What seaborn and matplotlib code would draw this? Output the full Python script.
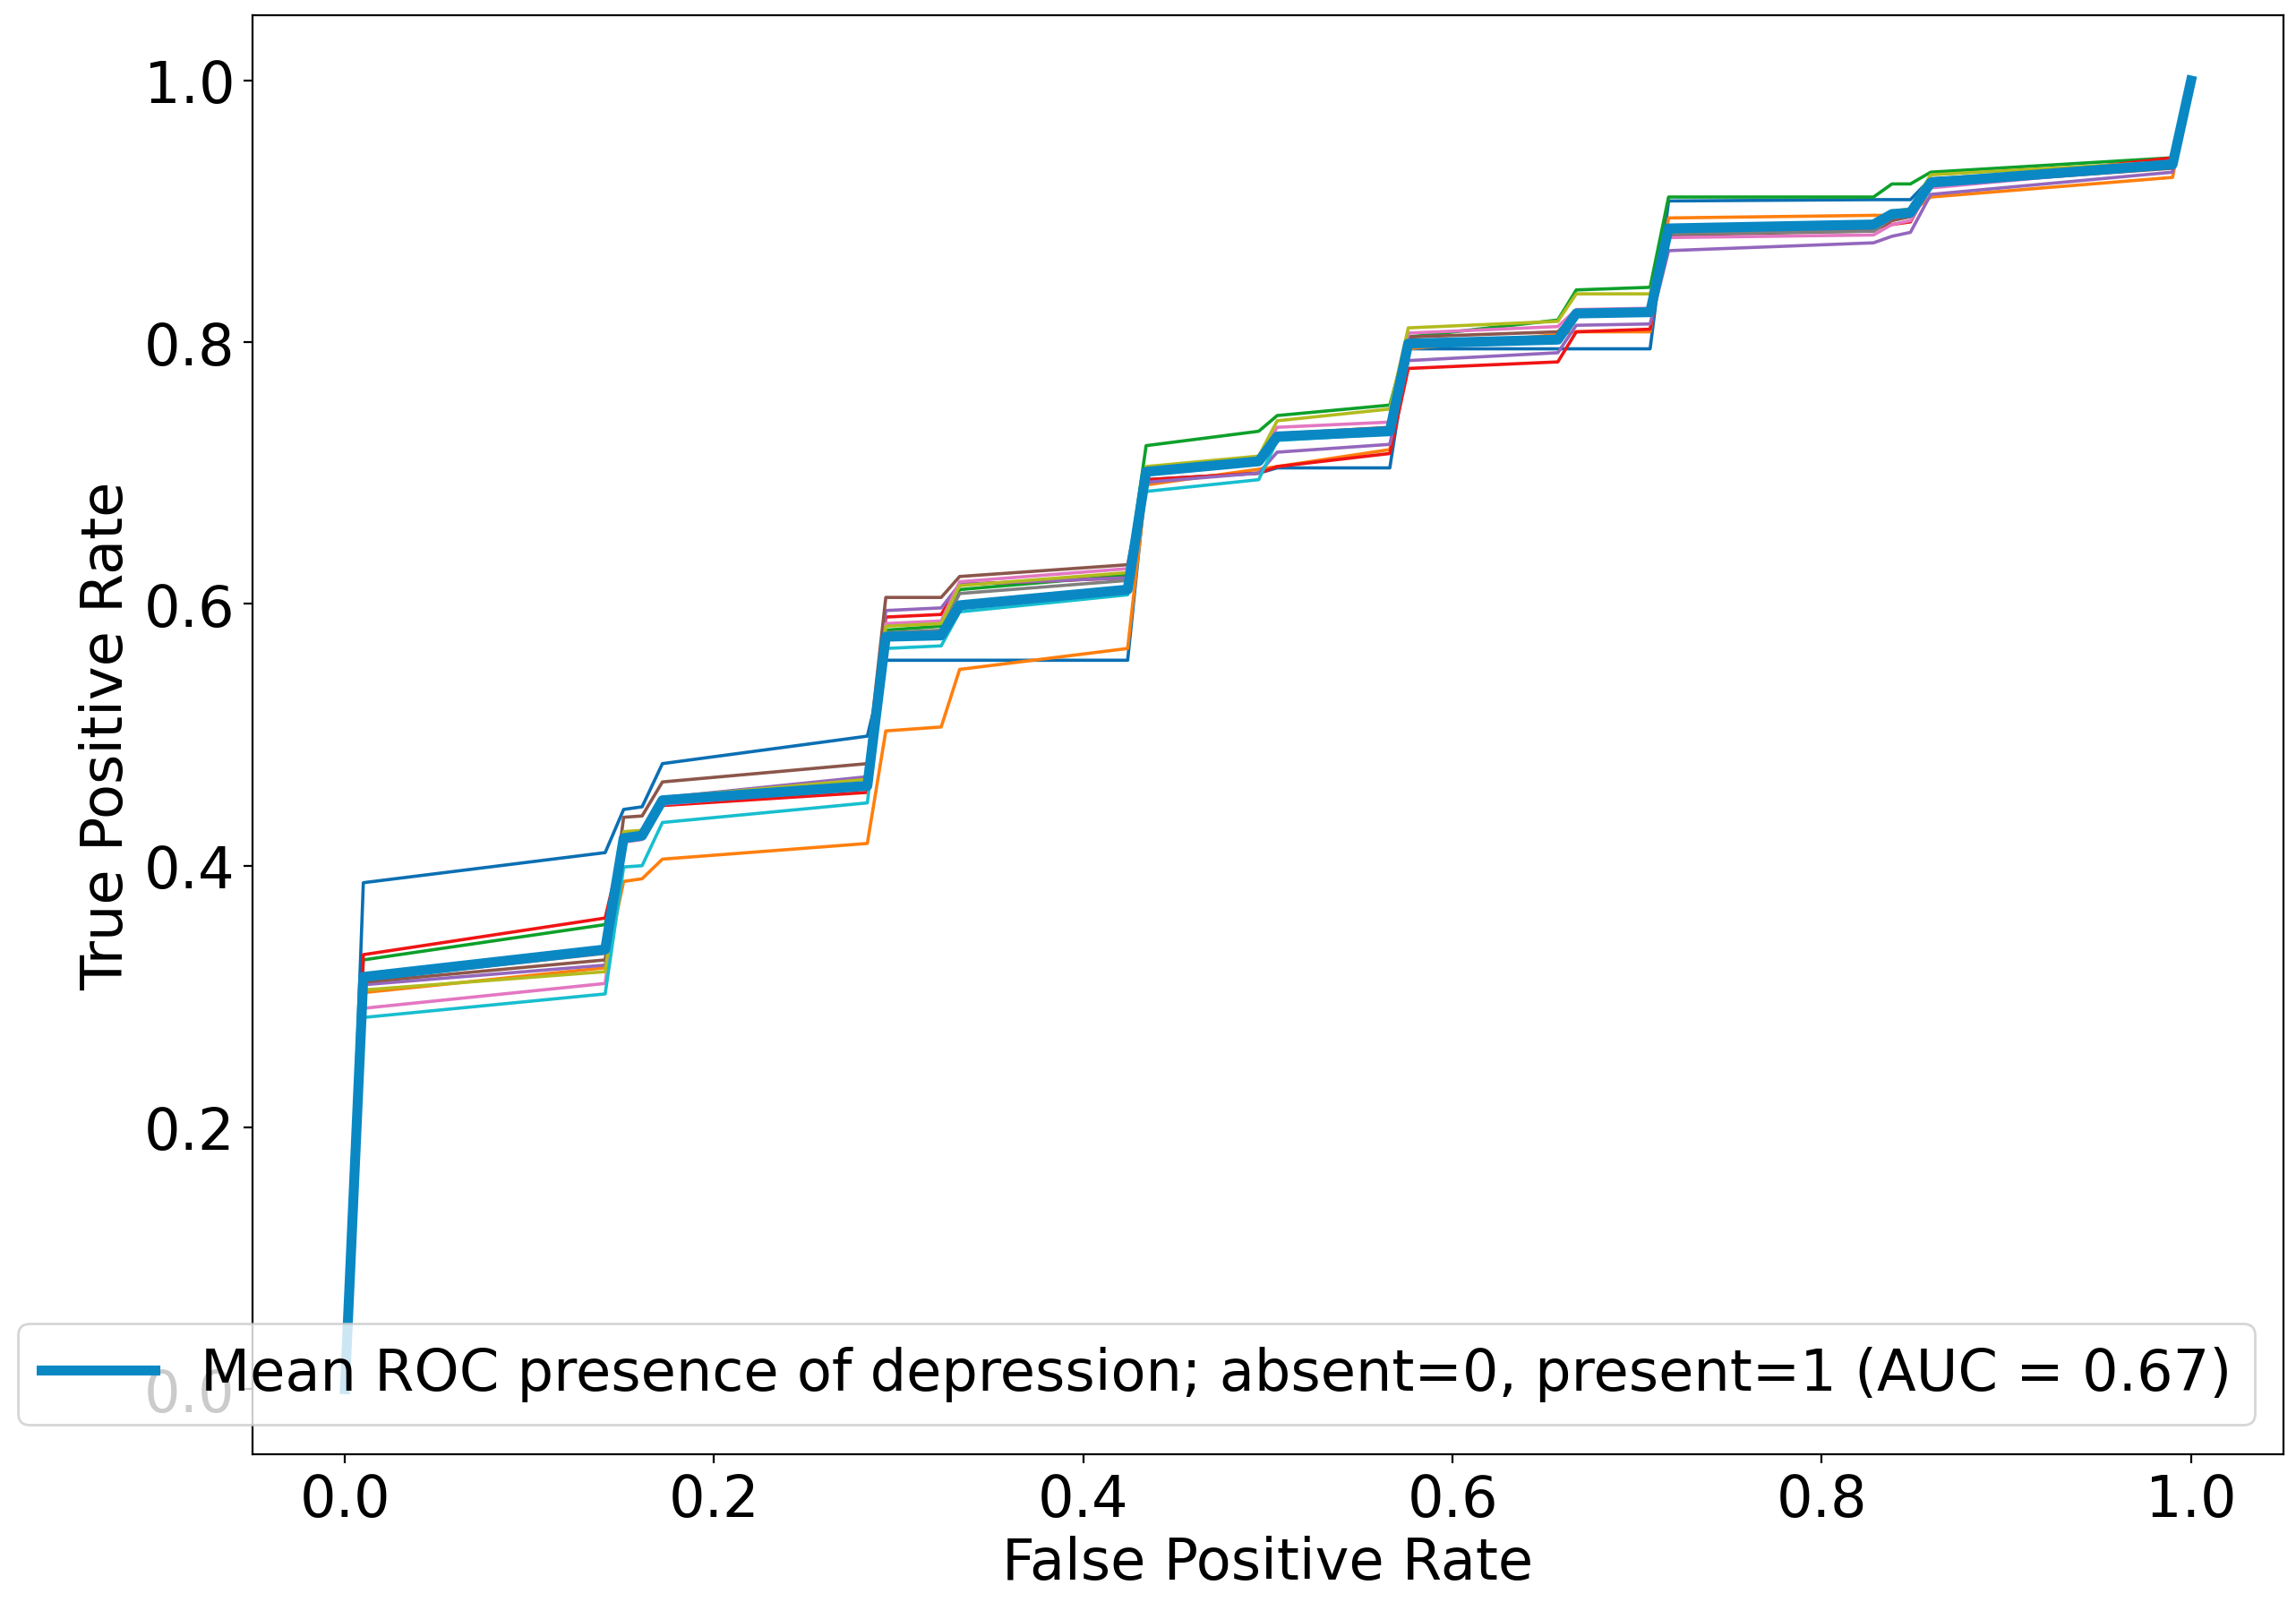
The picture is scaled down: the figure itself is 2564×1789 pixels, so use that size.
import numpy as np
import matplotlib
matplotlib.use("Agg")
import matplotlib.pyplot as plt
import seaborn as sns

# shared false positive rate grid (breakpoints)
fpr = [0.0, 0.010, 0.141, 0.151, 0.161, 0.172, 0.283, 0.293, 0.323, 0.333,
       0.424, 0.434, 0.495, 0.505, 0.566, 0.576, 0.657, 0.667, 0.707, 0.717,
       0.828, 0.838, 0.848, 0.859, 0.990, 1.0]

# per-fold true positive rates
tpr_blue = [0.0, 0.387, 0.410, 0.443, 0.445, 0.478, 0.499, 0.557, 0.557, 0.557,
            0.557, 0.695, 0.700, 0.704, 0.704, 0.795, 0.795, 0.795, 0.795, 0.908,
            0.909, 0.909, 0.909, 0.925, 0.935, 1.0]
tpr_orange = [0.0, 0.303, 0.322, 0.388, 0.390, 0.405, 0.417, 0.503, 0.506, 0.550,
              0.566, 0.691, 0.703, 0.705, 0.718, 0.795, 0.806, 0.808, 0.808, 0.895,
              0.897, 0.897, 0.899, 0.911, 0.926, 1.0]
tpr_green = [0.0, 0.328, 0.355, 0.423, 0.425, 0.448, 0.460, 0.580, 0.583, 0.611,
             0.622, 0.721, 0.732, 0.744, 0.752, 0.804, 0.817, 0.840, 0.842, 0.911,
             0.911, 0.921, 0.921, 0.930, 0.941, 1.0]
tpr_red = [0.0, 0.332, 0.360, 0.420, 0.422, 0.446, 0.456, 0.590, 0.592, 0.615,
           0.620, 0.695, 0.700, 0.705, 0.715, 0.780, 0.785, 0.808, 0.810, 0.885,
           0.887, 0.890, 0.892, 0.920, 0.941, 1.0]
tpr_purple = [0.0, 0.309, 0.324, 0.423, 0.425, 0.452, 0.468, 0.595, 0.597, 0.615,
              0.620, 0.693, 0.700, 0.716, 0.722, 0.786, 0.792, 0.813, 0.814, 0.870,
              0.876, 0.881, 0.884, 0.913, 0.930, 1.0]
tpr_brown = [0.0, 0.311, 0.328, 0.437, 0.438, 0.464, 0.478, 0.605, 0.605, 0.621,
             0.630, 0.700, 0.710, 0.730, 0.735, 0.804, 0.808, 0.822, 0.823, 0.882,
             0.885, 0.893, 0.896, 0.920, 0.933, 1.0]
tpr_pink = [0.0, 0.291, 0.310, 0.418, 0.420, 0.447, 0.460, 0.585, 0.587, 0.617,
            0.627, 0.703, 0.712, 0.735, 0.739, 0.807, 0.812, 0.825, 0.826, 0.880,
            0.882, 0.890, 0.893, 0.918, 0.935, 1.0]
tpr_gray = [0.0, 0.313, 0.333, 0.421, 0.423, 0.448, 0.460, 0.578, 0.580, 0.608,
            0.618, 0.700, 0.708, 0.728, 0.733, 0.800, 0.804, 0.821, 0.822, 0.883,
            0.885, 0.895, 0.897, 0.921, 0.935, 1.0]
tpr_olive = [0.0, 0.305, 0.319, 0.426, 0.427, 0.452, 0.466, 0.583, 0.585, 0.614,
             0.624, 0.705, 0.713, 0.740, 0.749, 0.811, 0.816, 0.837, 0.837, 0.888,
             0.890, 0.900, 0.902, 0.928, 0.938, 1.0]
tpr_cyan = [0.0, 0.284, 0.302, 0.399, 0.400, 0.433, 0.448, 0.566, 0.568, 0.594,
            0.607, 0.686, 0.695, 0.725, 0.730, 0.798, 0.802, 0.820, 0.821, 0.886,
            0.888, 0.896, 0.898, 0.920, 0.934, 1.0]

# mean ROC
tpr_mean = [0.0, 0.315, 0.336, 0.421, 0.423, 0.450, 0.461, 0.575, 0.576, 0.599,
            0.611, 0.701, 0.709, 0.728, 0.732, 0.799, 0.802, 0.822, 0.823, 0.887,
            0.890, 0.898, 0.899, 0.922, 0.936, 1.0]
mean_auc = 0.67

folds = [tpr_blue, tpr_orange, tpr_green, tpr_red, tpr_purple,
         tpr_brown, tpr_pink, tpr_gray, tpr_olive, tpr_cyan]
fold_colors = ['#0b6fb3', '#ff7f0e', '#0ea02a', '#f01414', '#9467bd',
               '#8c564b', '#e377c2', '#7f7f7f', '#b3bb1e', '#17becf']

fig, ax = plt.subplots(figsize=(12.82, 8.95), dpi=200)
fig.subplots_adjust(left=0.110, right=0.9945, top=0.990, bottom=0.092)

for tpr, c in zip(folds, fold_colors):
    sns.lineplot(x=fpr, y=tpr, ax=ax, color=c, lw=1.3, sort=False)

sns.lineplot(x=fpr, y=tpr_mean, ax=ax, color='#0a88c4', lw=4,
             sort=False,
             label=f'Mean ROC presence of depression; absent=0, present=1 (AUC = {mean_auc:.2f})')

ax.set_xlabel('False Positive Rate', fontsize=23, labelpad=3)
ax.set_ylabel('True Positive Rate', fontsize=23)
ax.tick_params(labelsize=23)
ax.set_xticks([0.0, 0.2, 0.4, 0.6, 0.8, 1.0])
ax.set_yticks([0.0, 0.2, 0.4, 0.6, 0.8, 1.0])

ax.legend(loc='lower left', bbox_to_anchor=(0.0078, 0.1106),
          bbox_transform=fig.transFigure, borderaxespad=0, fontsize=23)

plt.savefig('out.png', dpi=200)
